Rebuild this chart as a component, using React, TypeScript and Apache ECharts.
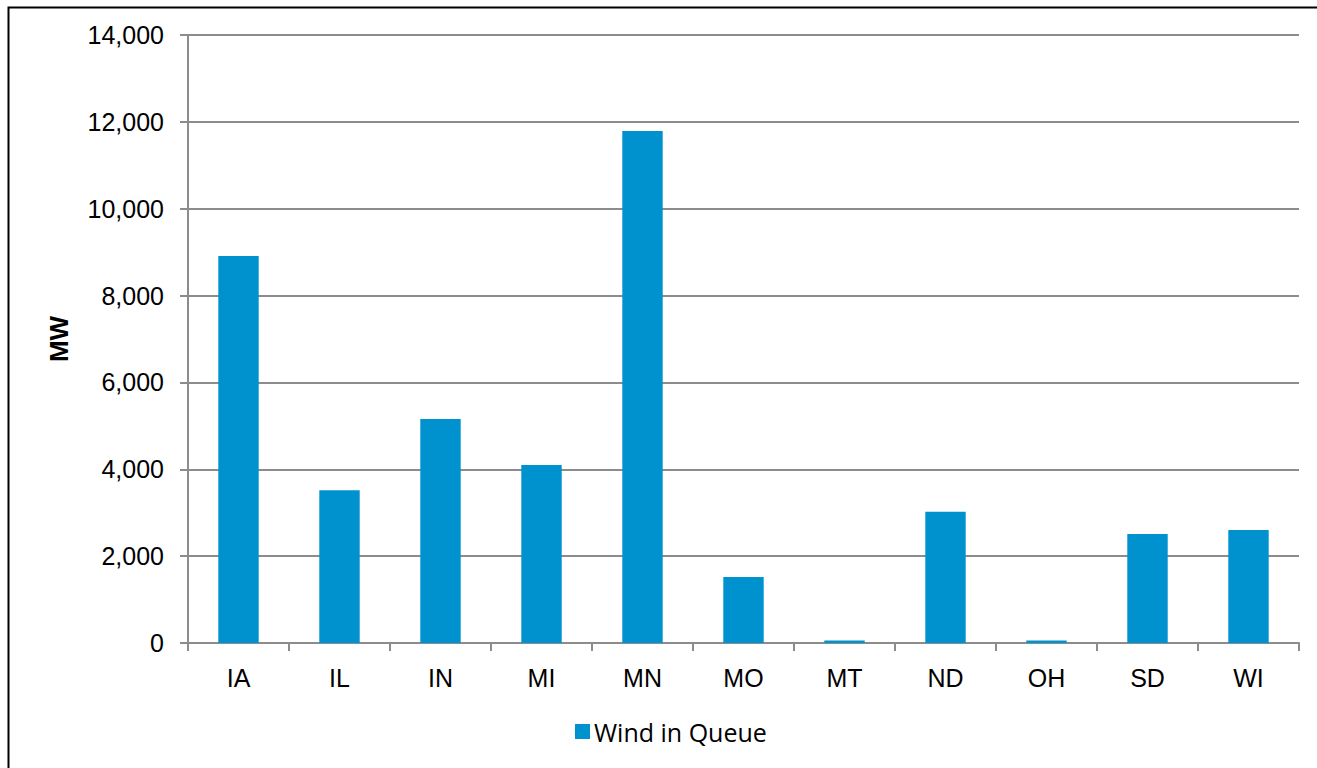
import React, { useEffect, useRef } from "react";
import * as echarts from "echarts";

const categories = ["IA", "IL", "IN", "MI", "MN", "MO", "MT", "ND", "OH", "SD", "WI"];
const windInQueue = [8910, 3520, 5160, 4100, 11790, 1520, 60, 3020, 60, 2510, 2600];
const seriesName = "Wind in Queue";
const yTicks = { min: 0, max: 14000, interval: 2000 };

export default function App() {
  const ref = useRef<HTMLDivElement>(null);
  useEffect(() => {
    document.body.style.margin = "0";
    document.body.style.overflow = "hidden";
    const chart = echarts.init(ref.current!, null, { renderer: "svg" });
    chart.setOption({
      animation: false,
      backgroundColor: "#ffffff",
      textStyle: { fontFamily: "Liberation Sans, Arial, sans-serif" },
      graphic: [
        {
          type: "rect",
          shape: { x: 8.5, y: 7.5, width: 1340, height: 800 },
          style: { fill: "none", stroke: "#000", lineWidth: 2 },
          z: 100,
          silent: true,
        },
      ],
      grid: { left: 188, right: 18, top: 35, bottom: 125 },
      legend: {
        data: [seriesName],
        top: 714,
        left: 570,
        icon: "rect",
        itemWidth: 15,
        itemHeight: 15,
        itemGap: 4,
        textStyle: { fontFamily: "Open Sans, sans-serif", fontSize: 25, color: "#000", padding: [0, 0, 0, -1] },
      },
      xAxis: {
        type: "category",
        data: categories,
        axisLine: { lineStyle: { color: "#8c8c8c", width: 2 } },
        axisTick: { show: true, length: 8, lineStyle: { color: "#8c8c8c", width: 2 } },
        axisLabel: { fontSize: 25, color: "#000", margin: 22 },
      },
      yAxis: {
        type: "value",
        min: yTicks.min,
        max: yTicks.max,
        interval: yTicks.interval,
        name: "MW",
        nameLocation: "middle",
        nameGap: 116,
        nameRotate: 90,
        nameTextStyle: { fontSize: 26, fontWeight: "bold", color: "#000" },
        axisLine: { show: true, lineStyle: { color: "#8c8c8c", width: 2 } },
        axisTick: { show: true, length: 8, lineStyle: { color: "#8c8c8c", width: 2 } },
        axisLabel: {
          fontSize: 25,
          color: "#000",
          margin: 24,
          formatter: (v: number) => v.toLocaleString("en-US"),
        },
        splitLine: { lineStyle: { color: "#8c8c8c", width: 2 } },
      },
      series: [
        {
          name: seriesName,
          type: "bar",
          data: windInQueue,
          barWidth: "40%",
          itemStyle: { color: "#0092cf" },
        },
      ],
    });
    return () => chart.dispose();
  }, []);
  return <div ref={ref} style={{ width: 1317, height: 768 }} />;
}
